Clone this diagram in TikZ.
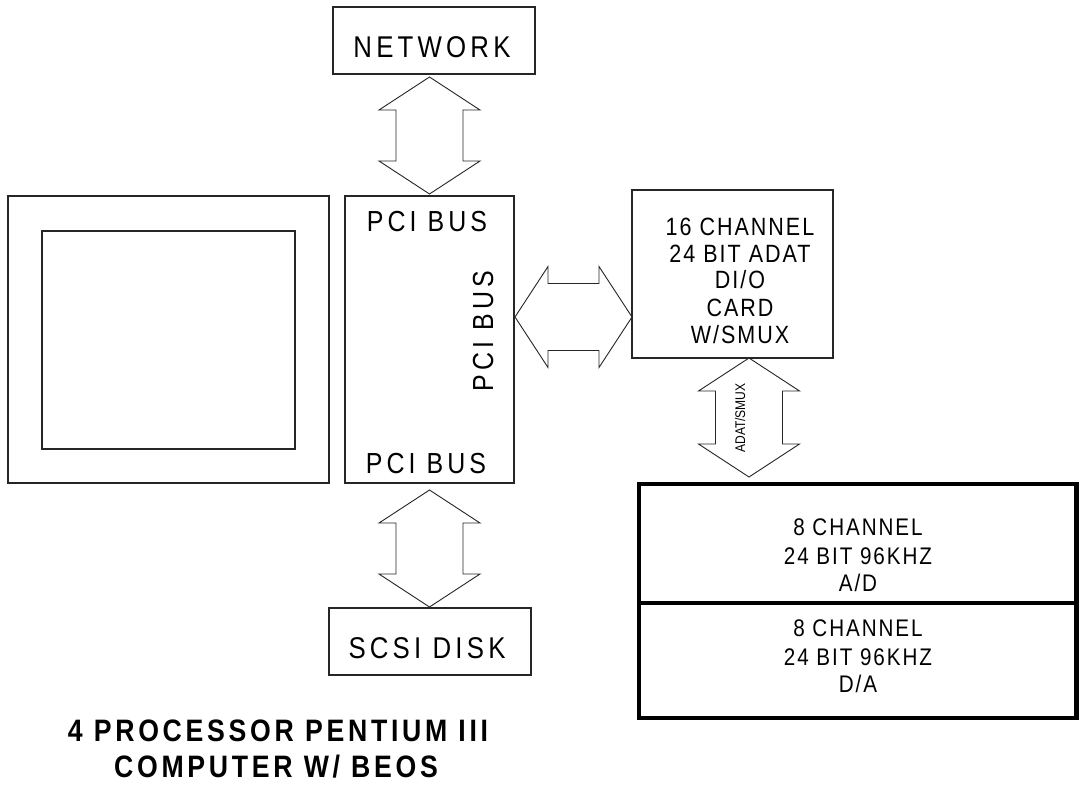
\documentclass[tikz,border=0pt]{standalone}
\usepackage{fontspec}
\setmainfont{Liberation Sans}[FakeStretch=0.86]
\newfontfamily\wideface{Liberation Sans}[FakeStretch=0.86,LetterSpace=14]
\newfontfamily\midface{Liberation Sans}[FakeStretch=0.86,LetterSpace=8]
\newfontfamily\headface{Liberation Sans}[FakeStretch=0.86,LetterSpace=12]
\usetikzlibrary{calc,fit}

% double-headed block arrow from point #1 to point #2
\newcommand\blockarrow[2]{%
  \draw[blockline] let \p1=($(#2)-(#1)$), \n1={atan2(\y1,\x1)}, \n2={veclen(\x1,\y1)} in
    [shift={(#1)},rotate=\n1]
    (0pt,0pt) -- (33pt,50.5pt) -- (33pt,33.5pt) -- (\n2-33pt,33.5pt) -- (\n2-33pt,50.5pt)
    -- (\n2,0pt) -- (\n2-33pt,-50.5pt) -- (\n2-33pt,-33.5pt) -- (33pt,-33.5pt)
    -- (33pt,-50.5pt) -- cycle;}

\begin{document}
\begin{tikzpicture}[x=1pt,y=-1pt,
  box/.style={draw=black!85,line width=1.2pt,inner sep=0pt,outer sep=0pt},
  heavybox/.style={draw=black,line width=4.5pt,inner sep=0pt,outer sep=0pt},
  blockline/.style={draw=black!85,line width=0.9pt,line join=miter},
  lbl/.style={inner sep=0pt,anchor=base},
  big/.style={lbl,font=\wideface\fontsize{30}{36}\selectfont},
  card/.style={lbl,font=\midface\fontsize{25}{30}\selectfont},
  conv/.style={lbl,font=\midface\fontsize{24}{29}\selectfont},
  title/.style={lbl,font=\headface\bfseries\fontsize{31}{37}\selectfont}]

\useasboundingbox[fill=white] (0,0) rectangle (1081,784);

% boxes
\node[box,fit={(333,7)(535,74)}] (net) {};
\node[box,fit={(345,196)(514,483)}] (pci) {};
\node[box,fit={(8,196)(329,483)}] (comp) {};
\node[box,fit={(42,231)(295,449)}] (screen) {};
\node[box,fit={(632,190)(833,358)}] (card) {};
\node[box,fit={(329,608)(531,675)}] (scsi) {};
\node[heavybox,fit={(639,484)(1076.5,603)}] (ad) {};
\node[heavybox,fit={(639,603)(1076.5,718)}] (da) {};

% labels
\node[big] (netlbl) at (432,57) {NETWORK};
\node[big,font=\wideface\fontsize{29}{35}\selectfont] (pcitop) at (427,231) {PCI BUS};
\node[big,font=\wideface\fontsize{29}{35}\selectfont,rotate=90] (pcimid) at (493,331) {PCI BUS};
\node[big,font=\wideface\fontsize{29}{35}\selectfont] (pcibot) at (426,473) {PCI BUS};
\node[big] (scsilbl) at (427,658) {SCSI DISK};

\node[card] (c1) at (740,235) {16 CHANNEL};
\node[card] (c2) at (740,262) {24 BIT ADAT};
\node[card] (c3) at (740,288) {DI/O};
\node[card] (c4) at (740,316) {CARD};
\node[card] (c5) at (740,343) {W/SMUX};

\node[conv] (a1) at (858,535.5) {8 CHANNEL};
\node[conv] (a2) at (858,564.5) {24 BIT 96KHZ};
\node[conv] (a3) at (858,591.5) {A/D};
\node[conv] (d1) at (858,636.5) {8 CHANNEL};
\node[conv] (d2) at (858,665.5) {24 BIT 96KHZ};
\node[conv] (d3) at (858,692.5) {D/A};

\node[lbl,rotate=90,font=\fontsize{14}{17}\selectfont] (adat) at (745,418) {ADAT/SMUX};

\node[title] (t1) at (278,741) {4 PROCESSOR PENTIUM III};
\node[title] (t2) at (276,777) {COMPUTER W/ BEOS};

% connector end points
\coordinate (nt) at ($(pci.north |- net.south)+(0,3)$);
\coordinate (pt) at ($(pci.north)+(0,-2)$);
\coordinate (pb) at ($(pci.south)+(0,7)$);
\coordinate (st) at ($(pci.south |- scsi.north)+(0,-1)$);
\coordinate (ph) at ($(pci.east |- 0,317)+(1,0)$);
\coordinate (ch) at (card.west |- ph);
\coordinate (cb) at ($(card.south)+(16.5,0)$);
\coordinate (at) at ($(cb |- ad.north)+(0,-7)$);

\blockarrow{nt}{pt}
\blockarrow{pb}{st}
\blockarrow{ph}{ch}
\blockarrow{cb}{at}

\end{tikzpicture}
\end{document}
